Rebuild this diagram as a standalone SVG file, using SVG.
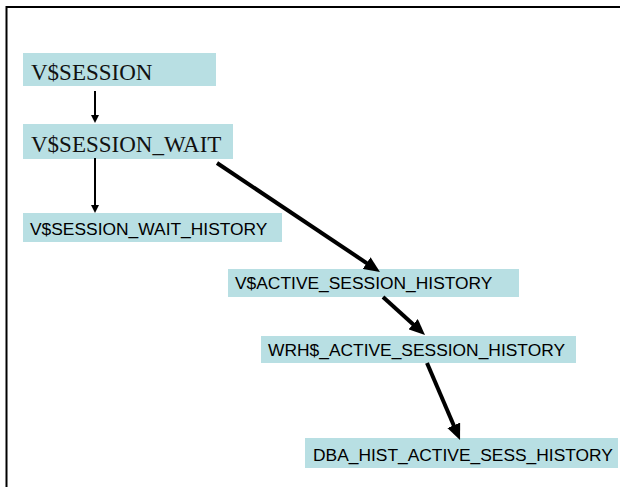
<svg xmlns="http://www.w3.org/2000/svg" width="620" height="487" viewBox="0 0 620 487">
<style>
.box{fill:#b8dfe3}
.serif{font-family:"Liberation Serif","Times New Roman",serif;font-size:23px;fill:#111}
.sans{font-family:"Liberation Sans",Arial,sans-serif;font-size:17.4px;fill:#000}
.thin{stroke:#000;stroke-width:2;fill:none}
.thick{stroke:#000;stroke-width:4;fill:none}
</style>
<defs>
<marker id="sm" viewBox="0 0 8 8" refX="2" refY="4" markerWidth="8" markerHeight="8" markerUnits="userSpaceOnUse" orient="auto"><path d="M0,0 L8,4 L0,8 z" fill="#000"/></marker>
<marker id="lg" viewBox="0 0 16 14" refX="4" refY="7" markerWidth="16" markerHeight="14" markerUnits="userSpaceOnUse" orient="auto"><path d="M0,0 L16,7 L0,14 z" fill="#000"/></marker>
</defs>
<rect width="620" height="487" fill="#fff"/>
<path d="M6.5,487 V7 H620" stroke="#000" stroke-width="2" fill="none"/>
<g id="n1"><rect class="box" x="23" y="53" width="193" height="33"/><text class="serif" x="31" y="80">V$SESSION</text></g>
<g id="n2"><rect class="box" x="23" y="124" width="210" height="35"/><text class="serif" x="31" y="152">V$SESSION_WAIT</text></g>
<g id="n3"><rect class="box" x="23" y="213" width="259" height="29"/><text class="sans" x="30" y="235">V$SESSION_WAIT_HISTORY</text></g>
<g id="n4"><rect class="box" x="228" y="269" width="291" height="28"/><text class="sans" x="235" y="289">V$ACTIVE_SESSION_HISTORY</text></g>
<g id="n5"><rect class="box" x="261" y="336" width="315" height="27"/><text class="sans" x="268" y="356">WRH$_ACTIVE_SESSION_HISTORY</text></g>
<g id="n6"><rect class="box" x="305" y="438" width="313" height="30"/><text class="sans" x="313" y="461">DBA_HIST_ACTIVE_SESS_HISTORY</text></g>
<g id="connectors">
<line class="thin" x1="95" y1="91" x2="95" y2="117" marker-end="url(#sm)"/>
<line class="thin" x1="95" y1="158" x2="95" y2="207" marker-end="url(#sm)"/>
<line class="thick" x1="217" y1="163" x2="370" y2="265.3" marker-end="url(#lg)"/>
<line class="thick" x1="383" y1="297" x2="416.1" y2="326.9" marker-end="url(#lg)"/>
<line class="thick" x1="427" y1="363" x2="455.3" y2="429" marker-end="url(#lg)"/>
</g>
</svg>
